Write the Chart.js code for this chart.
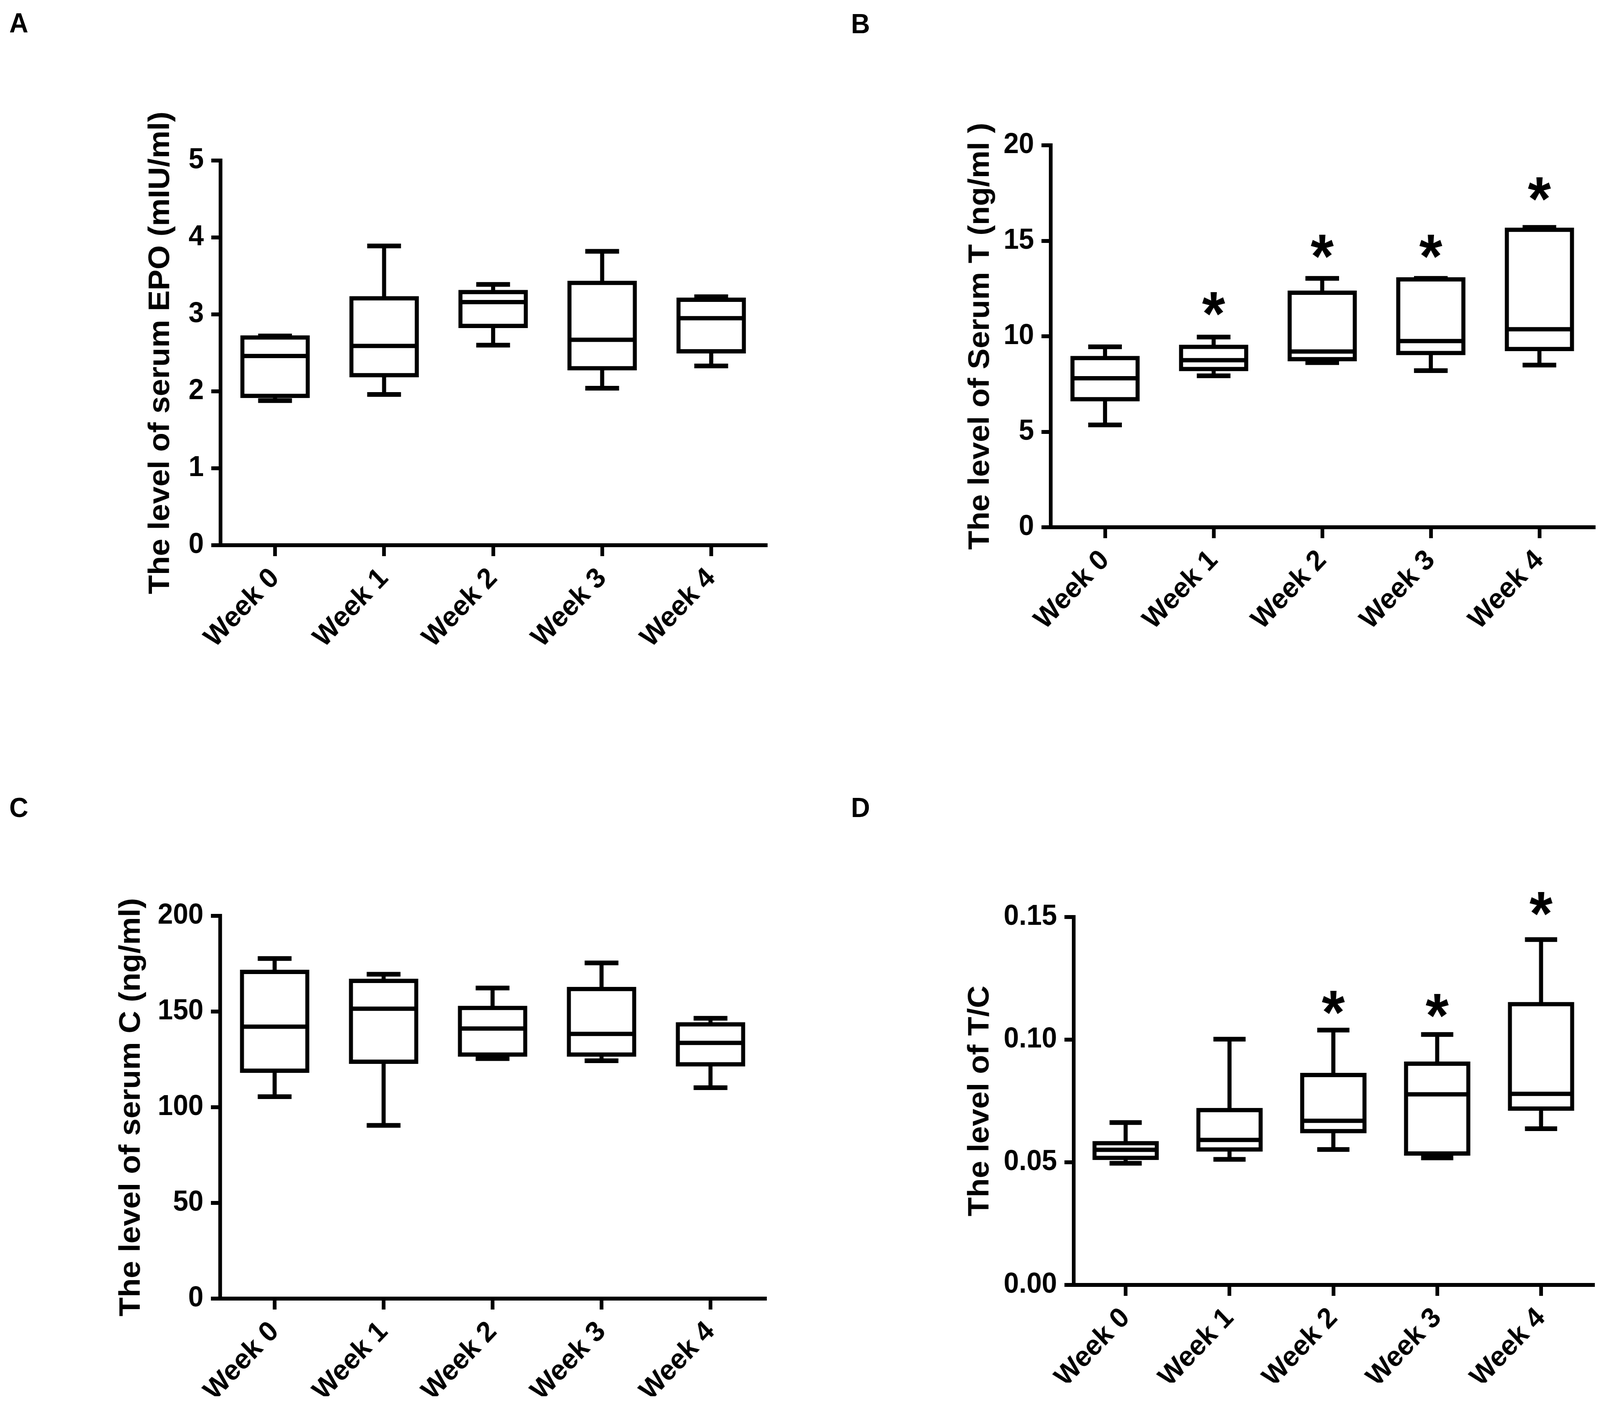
<!DOCTYPE html>
<html><head><meta charset="utf-8">
<script src="https://cdn.jsdelivr.net/npm/chart.js@4.4.1/dist/chart.umd.min.js"></script>
<style>
html,body{margin:0;padding:0;background:#fff;overflow:hidden;}
#root{position:absolute;left:0;top:0;width:4317px;height:3600px;transform-origin:0 0;background:#fff;}
canvas{position:absolute;}
.lbl{position:absolute;font-family:"Liberation Sans",Arial,sans-serif;font-weight:bold;font-size:71px;line-height:71px;color:#000;}
</style></head><body>
<div id="root">
<div class="lbl" style="left:25px;top:23px">A</div>
<div class="lbl" style="left:2296px;top:25px">B</div>
<div class="lbl" style="left:25px;top:2032px">C</div>
<div class="lbl" style="left:2296px;top:2032px">D</div>
<canvas id="cA" style="left:0px;top:0px;width:2158px;height:1800px"></canvas>
<canvas id="cB" style="left:2158px;top:0px;width:2159px;height:1800px"></canvas>
<canvas id="cC" style="left:0px;top:1800px;width:2158px;height:1800px"></canvas>
<canvas id="cD" style="left:2158px;top:1800px;width:2159px;height:1800px"></canvas>
</div>
<script>
// ---------------- data ----------------
const categories = ['Week 0', 'Week 1', 'Week 2', 'Week 3', 'Week 4'];

// Panel A: serum EPO (mIU/ml)
const epoMin    = [1.88, 1.96, 2.60, 2.04, 2.33];
const epoQ1     = [1.94, 2.21, 2.85, 2.30, 2.52];
const epoMedian = [2.46, 2.59, 3.16, 2.67, 2.95];
const epoQ3     = [2.70, 3.21, 3.29, 3.41, 3.19];
const epoMax    = [2.72, 3.89, 3.39, 3.82, 3.23];
const epoStars  = [null, null, null, null, null];
const epoTickValues = [0, 1, 2, 3, 4, 5];
const epoTickLabels = ['0', '1', '2', '3', '4', '5'];

// Panel B: serum T (ng/ml)
const tMin    = [5.36, 7.93, 8.62, 8.20, 8.49];
const tQ1     = [6.70, 8.28, 8.80, 9.12, 9.33];
const tMedian = [7.80, 8.75, 9.20, 9.75, 10.37];
const tQ3     = [8.86, 9.45, 12.28, 12.98, 15.58];
const tMax    = [9.45, 9.96, 13.03, 13.03, 15.70];
const tStars  = [null, 11.7, 14.7, 14.7, 17.7];
const tTickValues = [0, 5, 10, 15, 20];
const tTickLabels = ['0', '5', '10', '15', '20'];

// Panel C: serum C (ng/ml)
const cMin    = [105.5, 90.5, 125.4, 124.3, 110.2];
const cQ1     = [119.1, 123.8, 127.5, 127.5, 122.4];
const cMedian = [142.1, 151.5, 141.1, 138.3, 133.6];
const cQ3     = [170.7, 166.0, 151.9, 161.8, 143.3];
const cMax    = [177.7, 169.5, 162.3, 175.4, 146.5];
const cStars  = [null, null, null, null, null];
const cTickValues = [0, 50, 100, 150, 200];
const cTickLabels = ['0', '50', '100', '150', '200'];

// Panel D: T/C
const tcMin    = [0.0496, 0.0512, 0.0552, 0.0518, 0.0637];
const tcQ1     = [0.0518, 0.0552, 0.0627, 0.0536, 0.0719];
const tcMedian = [0.0551, 0.0591, 0.0669, 0.0777, 0.0779];
const tcQ3     = [0.0578, 0.0713, 0.0856, 0.0902, 0.1145];
const tcMax    = [0.0662, 0.1002, 0.1039, 0.1021, 0.1408];
const tcStars  = [null, null, 0.1151, 0.1138, 0.1554];
const tcTickValues = [0, 0.05, 0.10, 0.15];
const tcTickLabels = ['0.00', '0.05', '0.10', '0.15'];

// ---------------- styling / layout ----------------
const FONT = '"Liberation Sans", Arial, sans-serif';
Chart.defaults.font.family = FONT;
Chart.defaults.color = '#000';

// map the 4317x3600 figure frame onto whatever viewport the browser actually gives
const PAGE_W = 4317, PAGE_H = 3600;
const vw = window.innerWidth || PAGE_W, vh = window.innerHeight || PAGE_H;
const SX = Math.min(1, vw / PAGE_W), SY = Math.min(1, vh / PAGE_H);
document.getElementById('root').style.transform = 'scale(' + SX + ',' + SY + ')';

const LINE = 11;
const AXIS = 10;

function boxPlugin(stats) {
  return {
    id: 'boxWhisker',
    afterDatasetsDraw(chart) {
      const {ctx, scales: {x, y}} = chart;
      const meta = chart.getDatasetMeta(0);
      const catW = x.getPixelForValue(1) - x.getPixelForValue(0);
      const capW = catW * 0.31;
      ctx.save();
      ctx.strokeStyle = '#000';
      ctx.lineCap = 'butt';
      for (let i = 0; i < stats.median.length; i++) {
        const cx = x.getPixelForValue(i);
        const bw = meta.data[i].width;
        const yMed = y.getPixelForValue(stats.median[i]);
        const yQ1 = y.getPixelForValue(stats.q1[i]);
        const yQ3 = y.getPixelForValue(stats.q3[i]);
        const yMin = y.getPixelForValue(stats.min[i]);
        const yMax = y.getPixelForValue(stats.max[i]);
        ctx.lineWidth = LINE;
        ctx.beginPath();
        ctx.moveTo(cx - bw / 2, yMed); ctx.lineTo(cx + bw / 2, yMed);
        ctx.moveTo(cx, yQ3); ctx.lineTo(cx, yMax);
        ctx.moveTo(cx, yQ1); ctx.lineTo(cx, yMin);
        ctx.stroke();
        ctx.lineWidth = 12;
        ctx.beginPath();
        ctx.moveTo(cx - capW / 2, yMax); ctx.lineTo(cx + capW / 2, yMax);
        ctx.moveTo(cx - capW / 2, yMin); ctx.lineTo(cx + capW / 2, yMin);
        ctx.stroke();
      }
      ctx.fillStyle = '#000';
      ctx.font = 'bold 160px ' + FONT;
      ctx.textAlign = 'center';
      ctx.textBaseline = 'alphabetic';
      const m = ctx.measureText('*');
      const shift = (m.actualBoundingBoxAscent - m.actualBoundingBoxDescent) / 2;
      stats.stars.forEach((v, i) => {
        if (v === null) return;
        ctx.fillText('*', x.getPixelForValue(i), y.getPixelForValue(v) + shift);
      });
      ctx.restore();
    }
  };
}

function makeChart(id, s, geo) {
  new Chart(document.getElementById(id), {
    type: 'bar',
    data: {
      labels: categories,
      datasets: [{
        data: s.q1.map((v, i) => [v, s.q3[i]]),
        backgroundColor: '#fff',
        borderColor: '#000',
        borderWidth: LINE,
        borderSkipped: false,
        inflateAmount: LINE / 2,
        barPercentage: 0.6,
        categoryPercentage: 1.0
      }]
    },
    options: {
      responsive: false,
      animation: false,
      devicePixelRatio: 1,
      layout: {padding: {left: 0, top: geo.padTop, right: geo.padRight, bottom: geo.padBottom}},
      plugins: {legend: {display: false}, tooltip: {enabled: false}},
      events: [],
      scales: {
        x: {
          type: 'category',
          offset: true,
          border: {display: true, color: '#000', width: AXIS},
          grid: {display: true, offset: false, drawOnChartArea: false, drawTicks: true,
                 tickLength: 28, tickWidth: AXIS, tickColor: '#000', color: '#000', lineWidth: AXIS},
          ticks: {minRotation: 45, maxRotation: 45, autoSkip: false, padding: 14,
                  font: {size: 73, weight: 'bold'}, color: '#000'},
          afterFit: sc => { sc.height = geo.xHeight; }
        },
        y: {
          type: 'linear',
          min: s.tickValues[0],
          max: s.tickValues[s.tickValues.length - 1],
          border: {display: true, color: '#000', width: AXIS},
          grid: {display: true, drawOnChartArea: false, drawTicks: true,
                 tickLength: 25, tickWidth: AXIS, tickColor: '#000', color: '#000', lineWidth: AXIS},
          afterBuildTicks: sc => { sc.ticks = s.tickValues.map(v => ({value: v})); },
          ticks: {padding: 20, font: {size: 74, weight: 'bold'}, color: '#000',
                  callback: (v, i) => s.tickLabels[i]},
          title: {display: true, text: s.title, color: '#000',
                  font: {size: 80, weight: 'bold'}, padding: {top: geo.titlePad, bottom: 0}},
          afterFit: sc => { sc.width = geo.yWidth; }
        }
      }
    },
    plugins: [boxPlugin(s)]
  });
}

makeChart('cA', {min: epoMin, q1: epoQ1, median: epoMedian, q3: epoQ3, max: epoMax, stars: epoStars,
  tickValues: epoTickValues, tickLabels: epoTickLabels, title: 'The level of serum EPO (mIU/ml)'},
  {yWidth: 595, padTop: 411, padRight: 92, xHeight: 300, padBottom: 104, titlePad: 386});

makeChart('cB', {min: tMin, q1: tQ1, median: tMedian, q3: tQ3, max: tMax, stars: tStars,
  tickValues: tTickValues, tickLabels: tTickLabels, title: 'The level of Serum T (ng/ml )'},
  {yWidth: 677, padTop: 372, padRight: 17, xHeight: 300, padBottom: 150, titlePad: 440});

makeChart('cC', {min: cMin, q1: cQ1, median: cMedian, q3: cQ3, max: cMax, stars: cStars,
  tickValues: cTickValues, tickLabels: cTickLabels, title: 'The level of serum C (ng/ml)'},
  {yWidth: 594, padTop: 545, padRight: 94, xHeight: 250, padBottom: 25, titlePad: 307});

makeChart('cD', {min: tcMin, q1: tcQ1, median: tcMedian, q3: tcQ3, max: tcMax, stars: tcStars,
  tickValues: tcTickValues, tickLabels: tcTickLabels, title: 'The level of T/C'},
  {yWidth: 739, padTop: 548, padRight: 19, xHeight: 250, padBottom: 60, titlePad: 439});
</script>
</body></html>
